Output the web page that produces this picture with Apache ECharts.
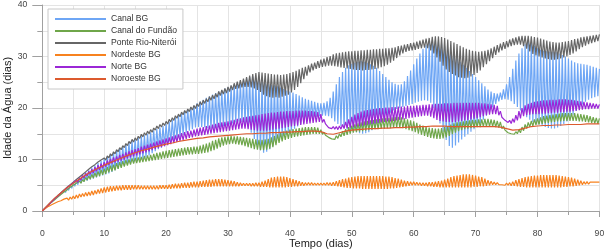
<!DOCTYPE html>
<html><head><meta charset="utf-8">
<script src="https://cdn.jsdelivr.net/npm/echarts@6/dist/echarts.min.js"></script>
<style>html,body{margin:0;padding:0;background:#fff}#c{width:605px;height:251px}</style>
</head><body><div id="c"></div>
<script>
// Series names (legend order)
const seriesNames = ["Canal BG","Canal do Fundão","Ponte Rio-Niterói","Nordeste BG","Norte BG","Noroeste BG"];
const xTicks = [0,10,20,30,40,50,60,70,80,90];
const yTicks = [0,10,20,30,40];

// Tidal series: peaks every 0.5 day (index k -> day k/2), troughs at day k/2+0.25
const canalBGHi = [
0,0.6,1.2,1.8,2.4,2.9,3.5,4.0,4.5,5.0,
5.5,6.0,6.5,7.0,7.5,7.9,8.4,8.8,9.3,9.7,
10.1,10.5,10.9,11.3,11.7,12.1,12.5,12.9,13.3,13.6,
13.9,14.2,14.5,14.7,15.0,15.3,15.6,15.9,16.2,16.5,
16.9,17.3,17.7,18.1,18.5,18.9,19.3,19.7,20.1,20.5,
20.9,21.3,21.6,22.0,22.3,22.6,22.9,23.2,23.5,23.8,
24.0,24.3,24.6,24.9,25.2,25.5,25.8,26.0,26.1,25.8,
25.4,25.0,24.8,24.6,24.5,24.4,24.2,24.0,23.7,23.4,
23.2,23.0,22.7,22.4,22.1,21.8,21.6,21.4,21.2,21.0,
20.9,21.0,21.3,22.0,23.2,24.6,26.0,27.0,27.8,28.3,
28.6,28.8,29.0,29.1,29.0,28.8,28.5,28.2,27.8,27.2,
26.6,26.0,25.5,25.0,24.7,24.5,24.6,25.2,26.2,27.3,
28.5,29.6,30.6,31.5,32.2,32.7,33.0,33.0,32.8,32.5,
32.0,31.4,30.8,30.2,29.6,29.0,28.4,27.8,27.2,26.6,
26.0,25.4,24.8,24.2,23.6,23.2,22.9,22.8,23.0,23.6,
24.6,26.0,27.6,29.2,30.6,31.6,32.4,32.8,32.6,32.1,
31.6,31.3,31.1,31.0,30.9,30.9,30.8,30.6,30.3,30.0,
29.6,29.2,28.9,28.7,28.6,28.5,28.4,28.2,28.0,27.8,
27.6];
const canalBGLo = [
0.3,0.8,1.3,1.8,2.3,2.8,3.2,3.6,4.0,4.4,
4.8,5.1,5.4,5.7,5.9,6.1,6.3,6.5,6.7,6.9,
7.1,7.3,7.6,7.9,8.2,8.5,8.8,9.0,9.2,9.4,
9.6,9.8,10.1,10.4,10.8,11.2,11.6,12.0,12.3,12.6,
12.9,13.2,13.6,14.0,14.4,14.8,15.2,15.6,15.9,16.2,
16.3,16.3,16.2,16.1,16.0,16.0,16.1,16.2,16.4,16.6,
16.8,17.0,17.2,17.4,17.3,16.9,16.2,15.2,14.0,12.8,
11.8,11.3,11.5,12.0,12.6,13.2,13.8,14.3,14.8,15.2,
15.6,16.0,16.4,16.8,17.2,17.5,17.8,18.0,18.2,18.4,
18.5,18.5,18.4,18.0,17.4,16.9,16.5,16.2,15.9,15.7,
15.5,15.3,15.1,15.0,15.1,15.3,15.7,16.2,16.8,17.4,
18.0,18.6,19.1,19.5,19.8,20.0,20.2,20.4,20.6,20.8,
21.0,21.2,21.4,21.5,21.4,21.0,20.0,18.6,17.0,15.4,
13.8,12.6,12.3,12.7,13.3,13.9,14.4,14.9,15.4,15.9,
16.4,17.0,17.7,18.5,19.3,20.1,20.8,21.3,21.6,21.7,
21.6,21.3,20.8,20.2,19.5,18.8,18.2,17.7,17.3,17.0,
16.8,16.5,16.3,16.1,16.0,16.0,16.2,16.5,16.9,17.4,
18.0,18.7,19.4,20.1,20.7,21.2,21.6,21.9,22.1,22.3];

const fundaoHi = [
0,0.6,1.2,1.7,2.2,2.7,3.2,3.7,4.1,4.6,
5.0,5.4,5.8,6.1,6.5,6.8,7.1,7.4,7.7,8.0,
8.2,8.5,8.8,9.0,9.3,9.5,9.7,9.9,10.0,10.2,
10.3,10.4,10.5,10.7,10.8,10.9,11.1,11.3,11.4,11.6,
11.7,11.8,11.9,12.0,12.1,12.2,12.3,12.4,12.4,12.5,
12.5,12.7,12.9,13.1,13.3,13.6,13.8,14.1,14.3,14.4,
14.5,14.6,14.5,14.5,14.4,14.3,14.2,14.1,14.0,13.9,
13.8,13.8,13.9,14.0,14.3,14.6,14.9,15.2,15.4,15.6,
15.8,15.9,16.0,16.1,16.2,16.3,16.3,16.3,16.3,16.2,
15.8,15.3,14.8,14.4,14.3,14.6,15.0,15.5,15.9,16.3,
16.6,16.8,17.0,17.2,17.4,17.5,17.6,17.7,17.8,17.9,
18.0,18.1,18.1,18.2,18.3,18.3,18.2,18.0,17.8,17.6,
17.4,17.1,16.8,16.6,16.4,16.2,16.1,16.0,16.0,16.1,
16.3,16.5,16.8,17.0,17.2,17.3,17.4,17.5,17.6,17.7,
17.7,17.8,17.8,17.9,17.9,17.8,17.7,17.5,17.3,16.5,
15.7,15.4,15.3,15.4,15.8,16.3,16.8,17.2,17.5,17.8,
18.0,18.2,18.4,18.5,18.6,18.7,18.8,18.9,19.0,19.0,
19.0,19.0,19.0,18.9,18.8,18.7,18.6,18.4,18.2,18.1,
18.0];
const fundaoLo = [
0.3,0.8,1.3,1.8,2.3,2.7,3.2,3.6,4.0,4.4,
4.8,5.1,5.4,5.7,6.0,6.2,6.4,6.6,6.8,7.0,
7.2,7.5,7.7,7.9,8.2,8.4,8.6,8.8,9.0,9.2,
9.3,9.4,9.5,9.6,9.7,9.8,9.9,10.0,10.1,10.2,
10.3,10.4,10.5,10.6,10.7,10.8,10.9,11.0,11.0,11.1,
11.1,11.2,11.3,11.4,11.6,11.8,12.1,12.4,12.7,12.9,
13.0,13.1,13.0,12.9,12.8,12.6,12.4,12.2,12.0,11.9,
11.8,11.8,11.9,12.1,12.4,12.8,13.2,13.5,13.8,14.0,
14.2,14.4,14.5,14.6,14.7,14.8,14.9,15.0,15.0,15.0,
14.9,14.7,14.3,14.0,13.9,14.1,14.4,14.6,14.8,15.0,
15.2,15.3,15.4,15.5,15.6,15.7,15.8,15.9,15.9,16.0,
16.0,16.1,16.1,16.2,16.2,16.2,16.1,15.9,15.7,15.5,
15.3,15.0,14.8,14.6,14.4,14.2,14.1,14.0,14.0,14.1,
14.3,14.6,14.9,15.2,15.5,15.7,15.9,16.0,16.1,16.2,
16.3,16.3,16.4,16.4,16.4,16.4,16.3,16.2,16.0,15.7,
15.2,15.0,14.9,15.0,15.2,15.6,16.0,16.3,16.5,16.7,
16.8,16.9,17.0,17.1,17.2,17.3,17.4,17.4,17.5,17.5,
17.5,17.5,17.5,17.4,17.4,17.3,17.2,17.1,17.0,16.9];

const ponteHi = [
0,0.6,1.2,1.8,2.4,3.0,3.5,4.1,4.6,5.1,
5.6,6.1,6.6,7.1,7.6,8.1,8.6,9.0,9.5,9.9,
10.3,10.7,11.1,11.5,11.9,12.3,12.7,13.1,13.5,13.9,
14.2,14.5,14.9,15.2,15.5,15.8,16.1,16.5,16.8,17.1,
17.4,17.8,18.1,18.5,18.8,19.2,19.5,19.8,20.2,20.5,
20.8,21.2,21.5,21.8,22.2,22.5,22.8,23.2,23.5,23.8,
24.1,24.4,24.8,25.1,25.4,25.7,26.0,26.3,26.6,26.8,
27.0,26.9,26.8,26.7,26.6,26.5,26.5,26.4,26.5,26.6,
26.8,27.0,27.2,27.5,27.8,28.0,28.3,28.6,28.8,29.1,
29.4,29.6,29.9,30.1,30.4,30.6,30.7,30.8,30.9,31.0,
31.0,31.1,31.1,31.2,31.2,31.3,31.3,31.4,31.4,31.5,
31.5,31.6,31.6,31.7,31.8,32.0,32.1,32.3,32.4,32.6,
32.7,32.9,33.1,33.3,33.5,33.6,33.8,33.9,33.9,33.8,
33.6,33.3,33.0,32.7,32.4,32.1,31.8,31.5,31.3,31.1,
31.0,30.9,31.0,31.1,31.3,31.6,31.9,32.2,32.5,32.8,
33.0,33.3,33.5,33.7,33.9,34.0,34.0,34.0,33.9,33.8,
33.7,33.5,33.3,33.1,32.9,32.8,32.7,32.7,32.8,32.9,
33.0,33.2,33.4,33.5,33.7,33.8,33.9,34.0,34.1,34.2,
34.3];
const ponteLo = [
0.3,0.8,1.4,2.0,2.6,3.1,3.6,4.1,4.6,5.0,
5.5,6.0,6.5,6.9,7.4,7.9,8.3,8.8,9.2,9.6,
9.9,10.3,10.7,11.1,11.5,11.9,12.3,12.7,13.1,13.4,
13.7,14.1,14.4,14.7,15.0,15.3,15.7,16.0,16.3,16.6,
16.9,17.3,17.6,18.0,18.3,18.7,19.0,19.3,19.6,19.9,
20.3,20.6,20.9,21.2,21.5,21.8,22.1,22.4,22.7,22.9,
23.2,23.5,23.7,23.8,24.0,24.1,24.1,24.0,23.8,23.5,
23.1,22.6,22.3,22.1,22.0,22.1,22.0,22.2,22.4,22.6,
23.0,23.5,24.1,24.8,25.6,26.3,26.9,27.3,27.6,27.8,
28.0,28.1,28.2,28.2,28.1,28.0,27.9,27.8,27.7,27.6,
27.5,27.4,27.4,27.3,27.4,27.4,27.5,27.6,27.7,27.9,
28.1,28.4,28.8,29.2,29.7,30.2,30.6,30.9,31.1,31.2,
31.3,31.5,31.6,31.7,31.6,31.2,30.6,29.8,29.0,28.2,
27.5,27.0,26.6,26.3,26.0,25.9,25.8,25.9,26.1,26.4,
26.8,27.3,27.9,28.5,29.1,29.7,30.3,30.8,31.2,31.5,
31.8,32.0,32.2,32.3,32.3,32.0,31.5,31.0,30.5,30.2,
30.0,29.8,29.6,29.5,29.4,29.4,29.5,29.6,29.8,30.0,
30.3,30.6,31.0,31.4,31.8,32.1,32.4,32.6,32.8,33.0];

const nordesteHi = [
0,0.5,0.9,1.2,1.5,1.8,2.0,2.3,2.5,2.7,
2.9,3.1,3.3,3.4,3.6,3.7,3.9,4.0,4.2,4.4,
4.6,4.7,4.8,4.8,4.9,4.9,5.0,5.0,5.0,5.0,
5.0,5.0,4.9,4.9,4.9,4.9,4.9,4.9,5.0,5.0,
5.0,5.1,5.2,5.3,5.3,5.4,5.5,5.5,5.6,5.7,
5.7,5.8,5.9,6.0,6.1,6.1,6.2,6.2,6.2,6.1,
6.0,5.9,5.8,5.6,5.5,5.4,5.4,5.4,5.4,5.5,
5.5,5.7,5.9,6.2,6.5,6.6,6.7,6.7,6.7,6.6,
6.4,6.2,6.0,5.8,5.6,5.5,5.5,5.5,5.4,5.4,
5.4,5.4,5.5,5.5,5.6,5.8,6.0,6.2,6.3,6.5,
6.6,6.7,6.8,6.8,6.8,6.8,6.8,6.8,6.8,6.8,
6.8,6.7,6.7,6.6,6.4,6.3,6.1,5.9,5.8,5.7,
5.7,5.6,5.5,5.5,5.5,5.6,5.6,5.7,5.8,5.9,
6.1,6.3,6.6,6.8,6.9,7.0,7.1,7.1,7.1,7.0,
6.9,6.7,6.6,6.3,6.0,5.8,5.6,5.5,5.4,5.4,
5.4,5.5,5.7,6.0,6.2,6.4,6.6,6.7,6.8,6.9,
6.9,7.0,7.0,7.0,7.0,7.0,7.0,6.9,6.8,6.7,
6.6,6.5,6.3,6.1,5.9,5.7,5.7,5.6,5.6,5.6,
5.6];
const nordesteLo = [
0.3,0.6,0.9,1.2,1.4,1.6,1.8,2.0,2.1,2.3,
2.4,2.5,2.7,2.8,2.9,3.0,3.1,3.3,3.4,3.5,
3.6,3.7,3.8,3.9,4.0,4.0,4.1,4.1,4.1,4.2,
4.2,4.2,4.2,4.2,4.2,4.2,4.2,4.2,4.3,4.3,
4.3,4.3,4.4,4.4,4.4,4.5,4.5,4.5,4.6,4.6,
4.6,4.7,4.7,4.7,4.7,4.8,4.8,4.8,4.8,4.8,
4.8,4.8,4.8,4.8,4.9,4.9,4.9,4.8,4.8,4.8,
4.7,4.7,4.7,4.6,4.6,4.6,4.6,4.6,4.6,4.7,
4.7,4.8,4.8,4.9,4.9,5.0,5.0,5.0,5.0,5.0,
5.0,5.0,5.0,4.9,4.9,4.8,4.7,4.6,4.5,4.5,
4.4,4.4,4.4,4.3,4.3,4.3,4.3,4.3,4.3,4.3,
4.3,4.3,4.4,4.4,4.5,4.6,4.7,4.8,4.9,5.0,
5.0,5.0,4.9,4.9,4.8,4.8,4.7,4.7,4.6,4.6,
4.6,4.6,4.6,4.6,4.6,4.6,4.6,4.6,4.6,4.7,
4.7,4.8,4.8,4.9,5.0,5.1,5.1,5.1,5.1,5.0,
5.0,4.9,4.9,4.8,4.7,4.7,4.6,4.6,4.6,4.6,
4.6,4.6,4.6,4.6,4.6,4.6,4.6,4.6,4.7,4.7,
4.8,4.8,4.9,5.0,5.1,5.2,5.2,5.3,5.3,5.3];

const norteHi = [
0,0.6,1.2,1.8,2.4,2.9,3.5,4.0,4.5,5.0,
5.5,6.0,6.4,6.9,7.3,7.7,8.1,8.5,8.9,9.2,
9.5,9.8,10.1,10.4,10.6,10.9,11.1,11.4,11.6,11.8,
12.0,12.2,12.5,12.7,12.9,13.1,13.3,13.5,13.7,13.9,
14.1,14.3,14.5,14.7,14.9,15.1,15.3,15.5,15.6,15.8,
16.0,16.2,16.3,16.5,16.6,16.8,16.9,17.1,17.2,17.3,
17.4,17.6,17.7,17.9,18.0,18.2,18.3,18.4,18.5,18.6,
18.7,18.8,18.9,19.0,19.1,19.1,19.2,19.3,19.3,19.4,
19.4,19.4,19.5,19.5,19.5,19.5,19.4,19.4,19.3,19.2,
18.8,17.8,16.8,16.5,16.4,16.4,16.5,16.8,17.3,17.8,
18.3,18.7,19.0,19.3,19.5,19.6,19.7,19.8,19.9,20.0,
20.0,20.1,20.1,20.2,20.2,20.3,20.3,20.3,20.4,20.4,
20.4,20.5,20.5,20.6,20.6,20.7,20.7,20.8,20.8,20.8,
20.9,20.9,20.9,21.0,21.0,21.0,21.0,21.0,21.0,21.0,
21.0,21.0,20.9,20.9,20.8,20.7,20.6,20.4,19.4,18.3,
17.8,17.6,17.9,18.6,19.4,20.0,20.5,20.8,21.0,21.2,
21.3,21.4,21.5,21.5,21.6,21.6,21.6,21.7,21.7,21.7,
21.6,21.6,21.5,21.4,21.3,21.2,21.1,21.0,20.9,20.8,
20.7];
const norteLo = [
0.3,0.8,1.4,1.9,2.4,2.9,3.4,3.9,4.4,4.8,
5.2,5.6,6.0,6.4,6.8,7.1,7.4,7.7,8.0,8.3,
8.6,8.9,9.2,9.4,9.6,9.8,10.0,10.2,10.4,10.6,
10.8,11.0,11.2,11.4,11.6,11.8,12.0,12.2,12.4,12.6,
12.8,13.0,13.2,13.4,13.6,13.8,14.0,14.2,14.3,14.5,
14.6,14.7,14.8,14.9,15.0,15.1,15.2,15.3,15.4,15.5,
15.6,15.7,15.8,15.9,16.0,16.0,15.9,15.8,15.7,15.6,
15.6,15.6,15.6,15.7,15.8,15.9,16.0,16.1,16.2,16.3,
16.4,16.5,16.6,16.7,16.8,16.9,17.0,17.1,17.2,17.3,
17.2,16.9,16.2,16.0,15.9,15.8,15.9,16.0,16.1,16.2,
16.3,16.4,16.5,16.6,16.7,16.8,16.9,17.0,17.1,17.2,
17.3,17.4,17.4,17.5,17.6,17.7,17.8,17.9,18.0,18.1,
18.2,18.3,18.4,18.5,18.5,18.3,18.0,17.7,17.5,17.4,
17.3,17.3,17.3,17.3,17.4,17.5,17.6,17.7,17.8,17.9,
18.0,18.2,18.4,18.6,18.7,18.8,18.8,18.6,18.2,17.6,
17.2,17.0,17.2,17.6,18.0,18.4,18.6,18.7,18.8,18.8,
18.8,18.9,18.9,19.0,19.0,19.1,19.1,19.2,19.2,19.3,
19.3,19.4,19.5,19.6,19.7,19.8,19.8,19.9,19.9,19.9];

// Smooth series, one value per day (day 0..90)
const noroesteDays = [
0,1.3,2.5,3.5,4.5,5.4,6.2,7.0,7.7,8.3,
8.9,9.4,9.9,10.4,10.9,11.3,11.7,12.0,12.4,12.7,
13.0,13.2,13.5,13.7,13.9,14.1,14.2,14.4,14.5,14.6,
14.7,14.8,14.9,15.0,15.0,15.1,15.1,15.2,15.2,15.3,
15.3,15.4,15.4,15.5,15.5,15.4,15.0,14.9,15.2,15.5,
15.7,15.8,15.9,16.0,16.0,16.1,16.1,16.2,16.2,16.3,
16.3,16.4,16.4,16.5,16.5,16.5,16.4,16.4,16.4,16.4,
16.4,16.4,16.4,16.4,16.3,16.0,15.7,15.8,16.1,16.4,
16.5,16.6,16.6,16.7,16.7,16.8,16.8,16.8,16.9,16.9,
16.9];

function tidal(hi, lo) {
  const out = [];
  for (let k = 0; k < hi.length; k++) {
    out.push([k / 2, hi[k]]);
    if (k < lo.length) out.push([k / 2 + 0.25, lo[k]]);
  }
  return out;
}
function daily(v) { return v.map((y, d) => [d, y]); }

const seriesData = [
  tidal(canalBGHi, canalBGLo),
  tidal(fundaoHi, fundaoLo),
  tidal(ponteHi, ponteLo),
  tidal(nordesteHi, nordesteLo),
  tidal(norteHi, norteLo),
  daily(noroesteDays)
];
const colors = ["#6ea6f5", "#6fa64a", "#666666", "#f7821f", "#9b27d6", "#dc5a2e"];

const FONT = "'Liberation Sans', Arial, sans-serif";
const chart = echarts.init(document.getElementById('c'), null, {renderer: 'canvas'});
const gridLine = {show: true, lineStyle: {color: '#e4e4e4', width: 1}};
chart.setOption({
  animation: false,
  color: colors,
  grid: {left: 42.3, right: 5.6, top: 5, bottom: 40, containLabel: false, outerBoundsMode: 'none'},
  legend: {
    orient: 'vertical', left: 48, top: 9,
    padding: [4, 6, 4, 7],
    backgroundColor: '#fff', borderColor: '#c8c8c8', borderWidth: 1,
    icon: 'rect', itemWidth: 51, itemHeight: 2, itemGap: 0,
    textStyle: {fontFamily: FONT, fontSize: 8.6, color: '#333', lineHeight: 12},
    data: seriesNames
  },
  xAxis: {
    type: 'value', min: 0, max: 90, interval: 10,
    name: 'Tempo (dias)', nameLocation: 'middle', nameGap: 27, nameMoveOverlap: false,
    nameTextStyle: {fontFamily: FONT, fontSize: 11, color: '#222'},
    axisLine: {show: true, lineStyle: {color: '#a0a0a0'}},
    axisTick: {show: true, length: 6, lineStyle: {color: '#a0a0a0'}},
    minorTick: {show: true, splitNumber: 2, length: 4, lineStyle: {color: '#a0a0a0'}},
    axisLabel: {fontFamily: FONT, fontSize: 8.6, color: '#444', margin: 18,
      formatter: v => xTicks.includes(v) ? String(v) : ''},
    splitLine: gridLine, minorSplitLine: gridLine
  },
  yAxis: {
    type: 'value', min: 0, max: 40, interval: 10,
    name: 'Idade da Água (dias)', nameLocation: 'middle', nameGap: 29, nameMoveOverlap: false,
    nameTextStyle: {fontFamily: FONT, fontSize: 11, color: '#222'},
    axisLine: {show: true, lineStyle: {color: '#a0a0a0'}},
    axisTick: {show: true, length: 10, lineStyle: {color: '#a0a0a0'}},
    minorTick: {show: true, splitNumber: 2, length: 5, lineStyle: {color: '#a0a0a0'}},
    axisLabel: {fontFamily: FONT, fontSize: 8.6, color: '#444', margin: 15,
      formatter: v => yTicks.includes(v) ? String(v) : ''},
    splitLine: gridLine, minorSplitLine: gridLine
  },
  series: seriesNames.map((n, i) => ({
    name: n, type: 'line', data: seriesData[i],
    showSymbol: false, symbol: 'none', sampling: null,
    lineStyle: {width: 1.2, color: colors[i]}, itemStyle: {color: colors[i]},
    emphasis: {disabled: true}
  }))
});
</script></body></html>
